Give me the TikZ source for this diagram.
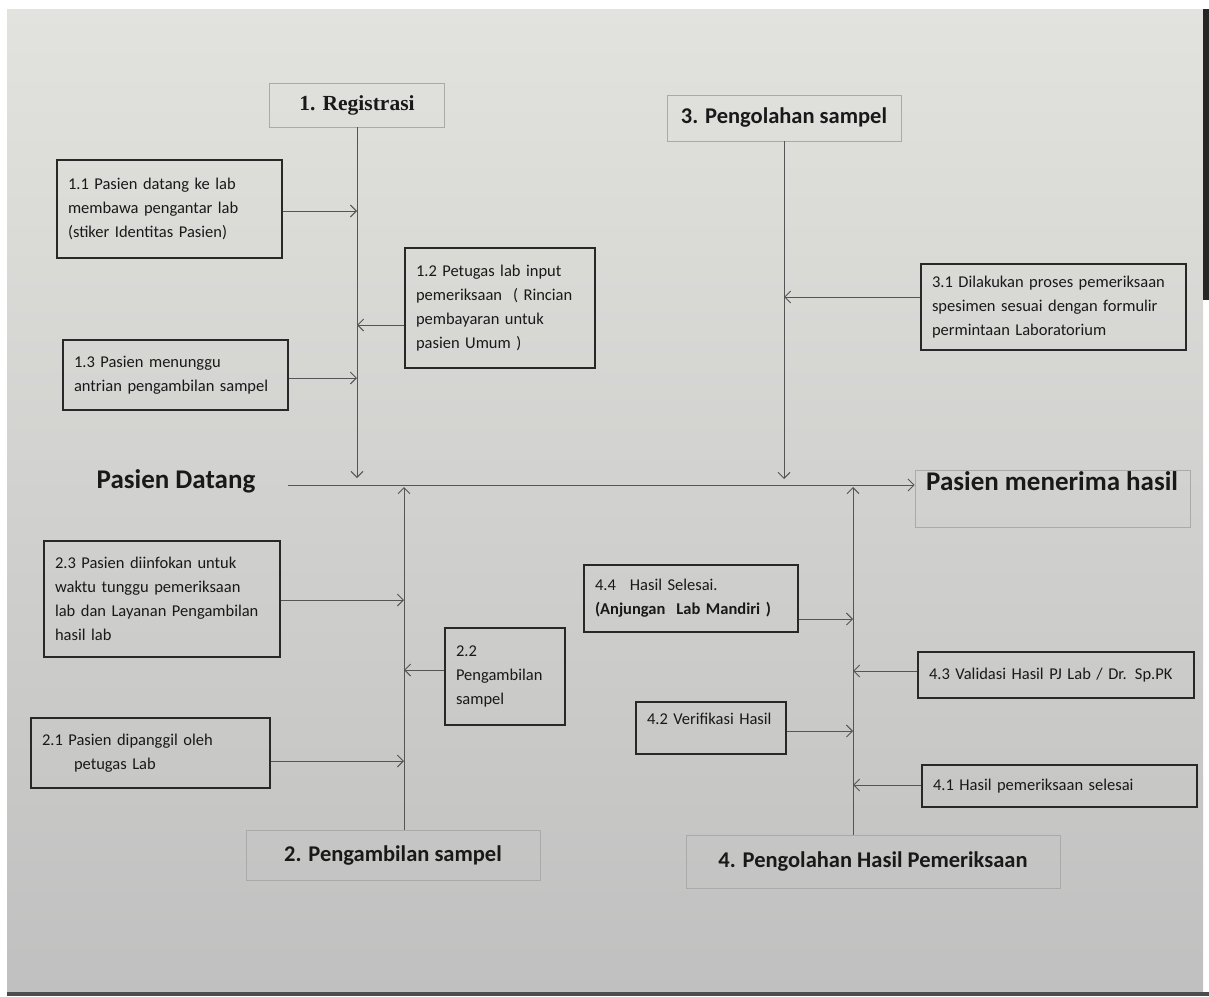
\documentclass[tikz,border=0pt]{standalone}
\usepackage{fontspec}
\setmainfont{Carlito}
\newfontfamily\regfont{Liberation Serif}
\usetikzlibrary{arrows.meta,shadings}
\definecolor{papertop}{RGB}{226,226,222}
\definecolor{paperbot}{RGB}{192,192,192}
\definecolor{inkline}{RGB}{85,85,85}
\definecolor{boxline}{RGB}{40,40,40}
\definecolor{headline}{RGB}{170,170,170}
\tikzset{
  itembox/.style={draw=boxline, line width=1.2pt, align=left, inner xsep=11pt, inner ysep=4pt,
    font=\fontsize{16.5}{24}\selectfont, text=black!90},
  headbox/.style={draw=headline, line width=0.8pt, align=center, font=\bfseries\fontsize{22.5}{24}\selectfont, text=black!90},
  spine/.style={draw=inkline, line width=0.9pt},
  arr/.style={draw=inkline, line width=0.9pt, -{Straight Barb[length=6pt,width=12pt]}},
  bigtext/.style={font=\bfseries\fontsize{27}{30}\selectfont, text=black!90}
}
\begin{document}
\begin{tikzpicture}[x=1pt,y=-1pt]
\useasboundingbox (0,0) rectangle (1209,996);
\fill[white] (0,0) rectangle (1209,996);
\shade[top color=papertop, bottom color=paperbot] (7,9) rectangle (1203,992);
\fill[black!85] (1203,9) rectangle (1209,300);
\fill[black!70] (7,992) rectangle (1209,996);

% ---------- 1. Registrasi ----------
\node[headbox, minimum width=175pt, minimum height=44pt, font=\regfont\bfseries\fontsize{21.5}{24}\selectfont] (reg) at (357,105) {1. Registrasi};
\coordinate (r1) at (357,478);
\draw[arr] (reg.south) -- (r1);

\node[itembox, text width=203pt, minimum height=98pt] (n11) at (169.5,209) {1.1 Pasien datang ke lab\\membawa pengantar lab\\(stiker Identitas Pasien)};
\node[itembox, text width=168pt, minimum height=120pt] (n12) at (500,308) {1.2 Petugas lab input\\pemeriksaan~~( Rincian\\pembayaran untuk\\pasien Umum )};
\node[itembox, text width=203pt, minimum height=70pt] (n13) at (175.5,375) {1.3 Pasien menunggu\\antrian pengambilan sampel};
\draw[arr] (n11.east |- 0,211) coordinate (a11) -- (a11 -| r1);
\draw[arr] (n12.west |- 0,325) coordinate (a12) -- (a12 -| r1);
\draw[arr] (n13.east |- 0,378) coordinate (a13) -- (a13 -| r1);

% ---------- 3. Pengolahan sampel ----------
\node[headbox, minimum width=234pt, minimum height=46pt] (sp3) at (784,118) {3. Pengolahan sampel};
\coordinate (r3) at (784,479);
\draw[arr] (sp3.south) -- (r3);
\node[itembox, text width=243pt, minimum height=86pt] (n31) at (1053.5,307) {3.1 Dilakukan proses pemeriksaan\\spesimen sesuai dengan formulir\\permintaan Laboratorium};
\draw[arr] (n31.west |- 0,297) coordinate (a31) -- (a31 -| r3);

% ---------- main line ----------
\node[bigtext] (pd) at (176,481) {Pasien Datang};
\node[draw=headline, line width=0.8pt, minimum width=275pt, minimum height=57pt] (pmhbox) at (1052.5,498.5) {};
\node[bigtext, anchor=north west, inner sep=0pt] (pmh) at (926,471) {Pasien menerima hasil};
\coordinate (ml) at (288,485);
\draw[arr] (ml) -- (ml -| pmhbox.west) coordinate (mlend);

% ---------- 2. Pengambilan sampel ----------
\node[headbox, minimum width=294pt, minimum height=50pt] (sp2) at (393,855) {2. Pengambilan sampel};
\coordinate (s2b) at (404,830);
\coordinate (s2t) at (404,487);
\draw[arr] (s2b) -- (s2t);
\node[itembox, text width=214pt, minimum height=116pt] (n23) at (162,599) {2.3 Pasien diinfokan untuk\\waktu tunggu pemeriksaan\\lab dan Layanan Pengambilan\\hasil lab};
\node[itembox, text width=98pt, minimum height=97pt] (n22) at (505,676.5) {2.2\\Pengambilan\\sampel};
\node[itembox, text width=217pt, minimum height=70pt] (n21) at (150.5,753) {2.1 Pasien dipanggil oleh\\\hspace*{32pt}petugas Lab};
\draw[arr] (n23.east |- 0,600) coordinate (a23) -- (a23 -| s2t);
\draw[arr] (n22.west |- 0,670) coordinate (a22) -- (a22 -| s2t);
\draw[arr] (n21.east |- 0,761) coordinate (a21) -- (a21 -| s2t);

% ---------- 4. Pengolahan Hasil Pemeriksaan ----------
\node[headbox, minimum width=374pt, minimum height=53pt] (sp4) at (873,861.5) {4. Pengolahan Hasil Pemeriksaan};
\coordinate (s4b) at (853,835);
\coordinate (s4t) at (853,487);
\draw[arr] (s4b) -- (s4t);
\node[itembox, text width=192pt, minimum height=67pt] (n44) at (691,598.5) {4.4\hspace{14pt}Hasil Selesai.\\\textbf{(Anjungan~~Lab Mandiri )}};
\node[itembox, text width=254pt, minimum height=46pt] (n43) at (1056,675) {4.3 Validasi Hasil PJ Lab / Dr. Sp.PK};
\node[itembox, text width=128pt, minimum height=52pt, text depth=18pt] (n42) at (711,728) {4.2 Verifikasi Hasil};
\node[itembox, text width=253pt, minimum height=42pt] (n41) at (1059.5,786) {4.1 Hasil pemeriksaan selesai};
\draw[arr] (n44.east |- 0,619) coordinate (a44) -- (a44 -| s4t);
\draw[arr] (n43.west |- 0,671) coordinate (a43) -- (a43 -| s4t);
\draw[arr] (n42.east |- 0,731) coordinate (a42) -- (a42 -| s4t);
\draw[arr] (n41.west |- 0,785) coordinate (a41) -- (a41 -| s4t);
\end{tikzpicture}
\end{document}
